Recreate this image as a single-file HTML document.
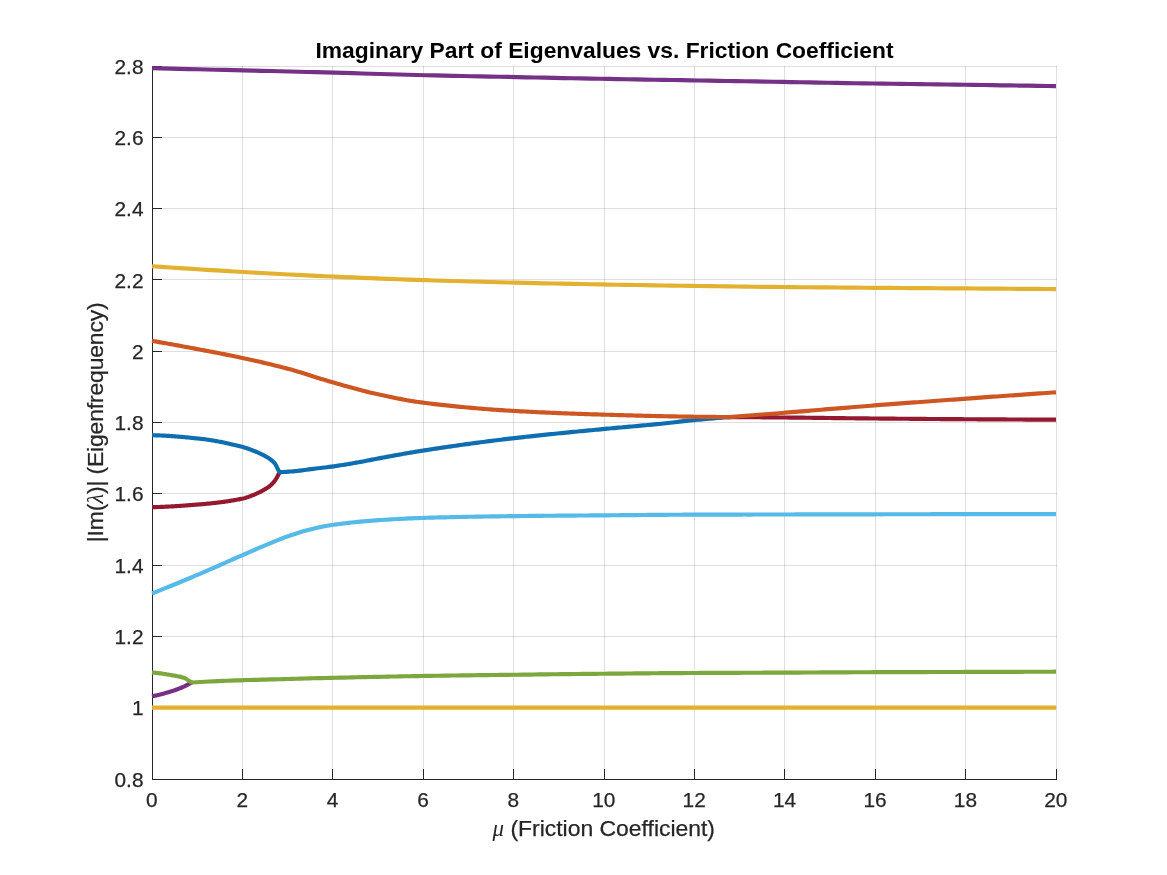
<!DOCTYPE html>
<html lang="en"><head><meta charset="utf-8"><title>Imaginary Part of Eigenvalues vs. Friction Coefficient</title>
<style>html,body{margin:0;padding:0;background:#fff;}body{width:1167px;height:875px;overflow:hidden;}svg{display:block;}text{font-family:"Liberation Sans",Helvetica,Arial,sans-serif;}</style></head><body>
<svg width="1167" height="875" viewBox="0 0 1167 875">
<rect width="1167" height="875" fill="#fff"/>
<path d="M152.5 66.0 V780.0 M242.5 66.0 V780.0 M332.5 66.0 V780.0 M423.5 66.0 V780.0 M513.5 66.0 V780.0 M604.5 66.0 V780.0 M694.5 66.0 V780.0 M784.5 66.0 V780.0 M875.5 66.0 V780.0 M965.5 66.0 V780.0 M1056.5 66.0 V780.0" stroke="#262626" stroke-opacity="0.15" stroke-width="1" fill="none" shape-rendering="crispEdges"/>
<path d="M152.0 779.5 H1057.0 M152.0 707.5 H1057.0 M152.0 636.5 H1057.0 M152.0 565.5 H1057.0 M152.0 493.5 H1057.0 M152.0 422.5 H1057.0 M152.0 351.5 H1057.0 M152.0 279.5 H1057.0 M152.0 208.5 H1057.0 M152.0 137.5 H1057.0 M152.0 66.5 H1057.0" stroke="#262626" stroke-opacity="0.15" stroke-width="1" fill="none" shape-rendering="crispEdges"/>
<path d="M152.5 66.0 V779.5 H1057.0 M152.5 779.5 v-11.0 M242.5 779.5 v-11.0 M332.5 779.5 v-11.0 M423.5 779.5 v-11.0 M513.5 779.5 v-11.0 M604.5 779.5 v-11.0 M694.5 779.5 v-11.0 M784.5 779.5 v-11.0 M875.5 779.5 v-11.0 M965.5 779.5 v-11.0 M1056.5 779.5 v-11.0 M152.5 779.5 h9.5 M152.5 707.5 h9.5 M152.5 636.5 h9.5 M152.5 565.5 h9.5 M152.5 493.5 h9.5 M152.5 422.5 h9.5 M152.5 351.5 h9.5 M152.5 279.5 h9.5 M152.5 208.5 h9.5 M152.5 137.5 h9.5 M152.5 66.5 h9.5" stroke="#262626" stroke-width="1" fill="none" shape-rendering="crispEdges"/>
<g fill="none" stroke-width="4.17" stroke-linejoin="round" stroke-linecap="butt">
<path d="M152.00 707.70 L1056.00 707.70" stroke="#E3B130"/>
<path d="M152.00 696.22 L153.03 696.03 L154.05 695.84 L155.08 695.63 L156.10 695.42 L157.13 695.19 L158.15 694.96 L159.18 694.71 L160.21 694.46 L161.23 694.21 L162.26 693.94 L163.28 693.67 L164.31 693.39 L165.33 693.11 L166.36 692.81 L167.39 692.52 L168.41 692.22 L169.44 691.91 L170.46 691.60 L171.49 691.28 L172.51 690.96 L173.54 690.63 L174.57 690.28 L175.59 689.93 L176.62 689.56 L177.64 689.18 L178.67 688.79 L179.69 688.39 L180.72 687.97 L181.75 687.54 L182.77 687.10 L183.80 686.65 L184.82 686.18 L185.85 685.66 L186.87 685.10 L187.90 684.51 L188.92 683.96 L189.95 683.44 L190.98 682.94 L192.00 682.46" stroke="#753185"/>
<path d="M152.00 672.41 L153.03 672.51 L154.05 672.61 L155.08 672.72 L156.10 672.84 L157.13 672.96 L158.15 673.09 L159.18 673.23 L160.21 673.37 L161.23 673.51 L162.26 673.66 L163.28 673.81 L164.31 673.97 L165.33 674.13 L166.36 674.29 L167.39 674.46 L168.41 674.63 L169.44 674.81 L170.46 674.98 L171.49 675.16 L172.51 675.34 L173.54 675.51 L174.57 675.68 L175.59 675.86 L176.62 676.04 L177.64 676.23 L178.67 676.44 L179.69 676.66 L180.72 676.90 L181.75 677.16 L182.77 677.45 L183.80 677.78 L184.82 678.13 L185.85 678.65 L186.87 679.35 L187.90 680.11 L188.92 680.81 L189.95 681.39 L190.98 681.94 L192.00 682.46 L192.00 682.46 L196.34 682.21 L200.69 681.97 L205.03 681.74 L209.37 681.52 L213.71 681.31 L218.05 681.12 L222.39 680.94 L226.74 680.76 L231.08 680.60 L235.42 680.45 L239.76 680.30 L244.10 680.16 L248.44 680.03 L252.79 679.91 L257.13 679.80 L261.47 679.69 L265.81 679.57 L270.15 679.45 L274.49 679.34 L278.84 679.22 L283.18 679.10 L287.52 678.98 L291.86 678.86 L296.20 678.75 L300.54 678.63 L304.89 678.52 L309.23 678.41 L313.57 678.29 L317.91 678.18 L322.25 678.08 L326.59 677.97 L330.94 677.87 L335.28 677.77 L339.62 677.67 L343.96 677.57 L348.30 677.47 L352.64 677.37 L356.99 677.28 L361.33 677.18 L365.67 677.08 L370.01 676.99 L374.35 676.90 L378.70 676.81 L383.04 676.72 L387.38 676.63 L391.72 676.54 L396.06 676.46 L400.40 676.37 L404.75 676.29 L409.09 676.21 L413.43 676.14 L417.77 676.06 L422.11 675.99 L426.45 675.92 L430.80 675.85 L435.14 675.78 L439.48 675.72 L443.82 675.66 L448.16 675.59 L452.50 675.53 L456.85 675.47 L461.19 675.42 L465.53 675.36 L469.87 675.30 L474.21 675.25 L478.55 675.19 L482.90 675.14 L487.24 675.08 L491.58 675.03 L495.92 674.98 L500.26 674.92 L504.60 674.87 L508.95 674.82 L513.29 674.76 L517.63 674.71 L521.97 674.66 L526.31 674.60 L530.65 674.55 L535.00 674.50 L539.34 674.44 L543.68 674.39 L548.02 674.34 L552.36 674.29 L556.70 674.24 L561.05 674.19 L565.39 674.14 L569.73 674.09 L574.07 674.04 L578.41 673.99 L582.75 673.94 L587.10 673.90 L591.44 673.85 L595.78 673.81 L600.12 673.76 L604.46 673.72 L608.81 673.68 L613.15 673.64 L617.49 673.60 L621.83 673.55 L626.17 673.51 L630.51 673.47 L634.86 673.43 L639.20 673.39 L643.54 673.35 L647.88 673.31 L652.22 673.28 L656.56 673.24 L660.91 673.20 L665.25 673.17 L669.59 673.14 L673.93 673.11 L678.27 673.08 L682.61 673.05 L686.96 673.02 L691.30 672.99 L695.64 672.97 L699.98 672.95 L704.32 672.93 L708.66 672.91 L713.01 672.89 L717.35 672.87 L721.69 672.85 L726.03 672.84 L730.37 672.82 L734.71 672.80 L739.06 672.79 L743.40 672.77 L747.74 672.76 L752.08 672.74 L756.42 672.73 L760.76 672.71 L765.11 672.70 L769.45 672.68 L773.79 672.67 L778.13 672.65 L782.47 672.63 L786.81 672.61 L791.16 672.59 L795.50 672.57 L799.84 672.55 L804.18 672.53 L808.52 672.51 L812.86 672.49 L817.21 672.46 L821.55 672.44 L825.89 672.42 L830.23 672.40 L834.57 672.37 L838.92 672.35 L843.26 672.33 L847.60 672.31 L851.94 672.29 L856.28 672.27 L860.62 672.25 L864.97 672.23 L869.31 672.21 L873.65 672.20 L877.99 672.18 L882.33 672.17 L886.67 672.15 L891.02 672.14 L895.36 672.13 L899.70 672.12 L904.04 672.10 L908.38 672.09 L912.72 672.08 L917.07 672.07 L921.41 672.06 L925.75 672.05 L930.09 672.03 L934.43 672.02 L938.77 672.01 L943.12 672.00 L947.46 671.99 L951.80 671.98 L956.14 671.97 L960.48 671.96 L964.82 671.95 L969.17 671.93 L973.51 671.92 L977.85 671.91 L982.19 671.90 L986.53 671.89 L990.87 671.87 L995.22 671.86 L999.56 671.85 L1003.90 671.84 L1008.24 671.83 L1012.58 671.81 L1016.92 671.80 L1021.27 671.79 L1025.61 671.78 L1029.95 671.77 L1034.29 671.75 L1038.63 671.74 L1042.97 671.73 L1047.32 671.72 L1051.66 671.71 L1056.00 671.69" stroke="#7CA63E"/>
<path d="M152.00 593.48 L155.02 592.28 L158.05 591.08 L161.07 589.87 L164.09 588.65 L167.12 587.43 L170.14 586.20 L173.16 584.97 L176.19 583.73 L179.21 582.49 L182.23 581.24 L185.26 579.99 L188.28 578.72 L191.30 577.46 L194.33 576.19 L197.35 574.91 L200.37 573.63 L203.40 572.33 L206.42 571.02 L209.44 569.70 L212.47 568.38 L215.49 567.05 L218.52 565.72 L221.54 564.38 L224.56 563.04 L227.59 561.70 L230.61 560.36 L233.63 559.03 L236.66 557.70 L239.68 556.38 L242.70 555.06 L245.73 553.74 L248.75 552.41 L251.77 551.09 L254.80 549.77 L257.82 548.46 L260.84 547.17 L263.87 545.89 L266.89 544.63 L269.91 543.37 L272.94 542.11 L275.96 540.86 L278.98 539.64 L282.01 538.45 L285.03 537.32 L288.05 536.24 L291.08 535.20 L294.10 534.19 L297.12 533.20 L300.15 532.25 L303.17 531.34 L306.19 530.49 L309.22 529.69 L312.24 528.95 L315.26 528.24 L318.29 527.55 L321.31 526.90 L324.33 526.29 L327.36 525.72 L330.38 525.21 L333.40 524.77 L336.43 524.35 L339.45 523.95 L342.47 523.57 L345.50 523.21 L348.52 522.86 L351.55 522.52 L354.57 522.21 L357.59 521.90 L360.62 521.61 L363.64 521.34 L366.66 521.08 L369.69 520.83 L372.71 520.60 L375.73 520.38 L378.76 520.17 L381.78 519.96 L384.80 519.77 L387.83 519.57 L390.85 519.39 L393.87 519.21 L396.90 519.04 L399.92 518.88 L402.94 518.72 L405.97 518.57 L408.99 518.43 L412.01 518.30 L415.04 518.18 L418.06 518.07 L421.08 517.97 L424.11 517.87 L427.13 517.78 L430.15 517.70 L433.18 517.61 L436.20 517.53 L439.22 517.45 L442.25 517.38 L445.27 517.30 L448.29 517.23 L451.32 517.16 L454.34 517.09 L457.36 517.03 L460.39 516.97 L463.41 516.90 L466.43 516.84 L469.46 516.79 L472.48 516.73 L475.51 516.68 L478.53 516.62 L481.55 516.57 L484.58 516.52 L487.60 516.47 L490.62 516.43 L493.65 516.38 L496.67 516.34 L499.69 516.30 L502.72 516.26 L505.74 516.22 L508.76 516.18 L511.79 516.14 L514.81 516.10 L517.83 516.07 L520.86 516.03 L523.88 516.00 L526.90 515.97 L529.93 515.94 L532.95 515.91 L535.97 515.88 L539.00 515.85 L542.02 515.82 L545.04 515.79 L548.07 515.77 L551.09 515.74 L554.11 515.72 L557.14 515.69 L560.16 515.67 L563.18 515.64 L566.21 515.62 L569.23 515.60 L572.25 515.58 L575.28 515.55 L578.30 515.53 L581.32 515.51 L584.35 515.48 L587.37 515.46 L590.39 515.44 L593.42 515.42 L596.44 515.39 L599.46 515.37 L602.49 515.34 L605.51 515.32 L608.54 515.30 L611.56 515.27 L614.58 515.24 L617.61 515.22 L620.63 515.19 L623.65 515.16 L626.68 515.14 L629.70 515.11 L632.72 515.08 L635.75 515.06 L638.77 515.03 L641.79 515.00 L644.82 514.98 L647.84 514.95 L650.86 514.92 L653.89 514.90 L656.91 514.88 L659.93 514.85 L662.96 514.83 L665.98 514.81 L669.00 514.79 L672.03 514.77 L675.05 514.75 L678.07 514.73 L681.10 514.71 L684.12 514.70 L687.14 514.68 L690.17 514.67 L693.19 514.66 L696.21 514.65 L699.24 514.64 L702.26 514.63 L705.28 514.62 L708.31 514.62 L711.33 514.61 L714.35 514.60 L717.38 514.60 L720.40 514.59 L723.42 514.58 L726.45 514.58 L729.47 514.57 L732.49 514.57 L735.52 514.56 L738.54 514.55 L741.57 514.55 L744.59 514.54 L747.61 514.54 L750.64 514.54 L753.66 514.53 L756.68 514.53 L759.71 514.52 L762.73 514.52 L765.75 514.51 L768.78 514.51 L771.80 514.50 L774.82 514.50 L777.85 514.49 L780.87 514.48 L783.89 514.48 L786.92 514.47 L789.94 514.47 L792.96 514.46 L795.99 514.45 L799.01 514.45 L802.03 514.44 L805.06 514.44 L808.08 514.43 L811.10 514.42 L814.13 514.42 L817.15 514.41 L820.17 514.41 L823.20 514.40 L826.22 514.39 L829.24 514.39 L832.27 514.38 L835.29 514.37 L838.31 514.37 L841.34 514.36 L844.36 514.36 L847.38 514.35 L850.41 514.34 L853.43 514.34 L856.45 514.33 L859.48 514.33 L862.50 514.32 L865.53 514.32 L868.55 514.31 L871.57 514.31 L874.60 514.30 L877.62 514.29 L880.64 514.29 L883.67 514.28 L886.69 514.28 L889.71 514.27 L892.74 514.27 L895.76 514.26 L898.78 514.26 L901.81 514.25 L904.83 514.25 L907.85 514.24 L910.88 514.24 L913.90 514.23 L916.92 514.23 L919.95 514.22 L922.97 514.22 L925.99 514.21 L929.02 514.21 L932.04 514.20 L935.06 514.20 L938.09 514.20 L941.11 514.19 L944.13 514.19 L947.16 514.18 L950.18 514.18 L953.20 514.17 L956.23 514.17 L959.25 514.16 L962.27 514.16 L965.30 514.16 L968.32 514.15 L971.34 514.15 L974.37 514.14 L977.39 514.14 L980.41 514.14 L983.44 514.13 L986.46 514.13 L989.48 514.12 L992.51 514.12 L995.53 514.12 L998.56 514.11 L1001.58 514.11 L1004.60 514.11 L1007.63 514.10 L1010.65 514.10 L1013.67 514.10 L1016.70 514.09 L1019.72 514.09 L1022.74 514.08 L1025.77 514.08 L1028.79 514.08 L1031.81 514.07 L1034.84 514.07 L1037.86 514.07 L1040.88 514.06 L1043.91 514.06 L1046.93 514.06 L1049.95 514.06 L1052.98 514.05 L1056.00 514.05" stroke="#55BAE7"/>
<path d="M152.00 507.17 L153.07 507.15 L154.14 507.12 L155.21 507.10 L156.29 507.07 L157.36 507.04 L158.43 507.00 L159.50 506.97 L160.57 506.93 L161.64 506.89 L162.72 506.84 L163.79 506.80 L164.86 506.75 L165.93 506.70 L167.00 506.65 L168.07 506.60 L169.14 506.54 L170.22 506.48 L171.29 506.42 L172.36 506.36 L173.43 506.30 L174.50 506.24 L175.57 506.17 L176.64 506.10 L177.72 506.03 L178.79 505.96 L179.86 505.89 L180.93 505.82 L182.00 505.75 L183.07 505.67 L184.15 505.59 L185.22 505.52 L186.29 505.44 L187.36 505.36 L188.43 505.28 L189.50 505.19 L190.57 505.11 L191.65 505.03 L192.72 504.94 L193.79 504.86 L194.86 504.77 L195.93 504.69 L197.00 504.60 L198.07 504.51 L199.15 504.43 L200.22 504.34 L201.29 504.25 L202.36 504.16 L203.43 504.06 L204.50 503.97 L205.58 503.87 L206.65 503.77 L207.72 503.67 L208.79 503.56 L209.86 503.46 L210.93 503.35 L212.00 503.24 L213.08 503.12 L214.15 503.00 L215.22 502.88 L216.29 502.76 L217.36 502.63 L218.43 502.50 L219.50 502.37 L220.58 502.24 L221.65 502.10 L222.72 501.95 L223.79 501.81 L224.86 501.66 L225.93 501.50 L227.01 501.35 L228.08 501.19 L229.15 501.02 L230.22 500.85 L231.29 500.68 L232.36 500.50 L233.43 500.32 L234.51 500.13 L235.58 499.94 L236.65 499.75 L237.72 499.54 L238.79 499.34 L239.86 499.13 L240.93 498.91 L242.01 498.69 L243.08 498.46 L244.15 498.20 L245.22 497.91 L246.29 497.58 L247.36 497.24 L248.44 496.87 L249.51 496.48 L250.58 496.08 L251.65 495.66 L252.72 495.24 L253.79 494.81 L254.86 494.37 L255.94 493.92 L257.01 493.45 L258.08 492.95 L259.15 492.43 L260.22 491.89 L261.29 491.33 L262.37 490.75 L263.44 490.15 L264.51 489.53 L265.58 488.89 L266.65 488.23 L267.72 487.53 L268.79 486.78 L269.87 485.97 L270.94 485.08 L272.01 484.08 L273.08 482.92 L274.15 481.62 L275.22 480.18 L276.29 478.53 L277.37 476.62 L278.44 474.53 L279.51 472.16" stroke="#94182F"/>
<path d="M722.31 417.01 L725.68 417.04 L729.05 417.07 L732.42 417.09 L735.79 417.12 L739.16 417.15 L742.53 417.17 L745.90 417.20 L749.27 417.22 L752.64 417.24 L756.01 417.27 L759.38 417.29 L762.75 417.32 L766.13 417.35 L769.50 417.37 L772.87 417.40 L776.24 417.43 L779.61 417.46 L782.98 417.49 L786.35 417.52 L789.72 417.56 L793.09 417.59 L796.46 417.63 L799.83 417.66 L803.20 417.70 L806.57 417.74 L809.94 417.78 L813.31 417.82 L816.68 417.86 L820.06 417.90 L823.43 417.94 L826.80 417.98 L830.17 418.02 L833.54 418.06 L836.91 418.10 L840.28 418.13 L843.65 418.17 L847.02 418.21 L850.39 418.25 L853.76 418.29 L857.13 418.33 L860.50 418.36 L863.87 418.40 L867.24 418.43 L870.61 418.46 L873.99 418.50 L877.36 418.53 L880.73 418.56 L884.10 418.59 L887.47 418.62 L890.84 418.65 L894.21 418.68 L897.58 418.71 L900.95 418.74 L904.32 418.77 L907.69 418.79 L911.06 418.82 L914.43 418.85 L917.80 418.88 L921.17 418.90 L924.55 418.93 L927.92 418.96 L931.29 418.98 L934.66 419.01 L938.03 419.03 L941.40 419.06 L944.77 419.08 L948.14 419.11 L951.51 419.13 L954.88 419.15 L958.25 419.17 L961.62 419.20 L964.99 419.22 L968.36 419.24 L971.73 419.26 L975.10 419.28 L978.48 419.30 L981.85 419.32 L985.22 419.34 L988.59 419.36 L991.96 419.38 L995.33 419.40 L998.70 419.41 L1002.07 419.43 L1005.44 419.45 L1008.81 419.47 L1012.18 419.49 L1015.55 419.50 L1018.92 419.52 L1022.29 419.54 L1025.66 419.55 L1029.03 419.57 L1032.41 419.59 L1035.78 419.60 L1039.15 419.62 L1042.52 419.63 L1045.89 419.64 L1049.26 419.66 L1052.63 419.67 L1056.00 419.68" stroke="#94182F"/>
<path d="M152.00 435.26 L153.07 435.27 L154.14 435.29 L155.21 435.31 L156.29 435.34 L157.36 435.37 L158.43 435.40 L159.50 435.44 L160.57 435.48 L161.64 435.52 L162.72 435.57 L163.79 435.62 L164.86 435.68 L165.93 435.73 L167.00 435.80 L168.07 435.86 L169.14 435.93 L170.22 436.00 L171.29 436.07 L172.36 436.15 L173.43 436.22 L174.50 436.31 L175.57 436.39 L176.64 436.48 L177.72 436.56 L178.79 436.65 L179.86 436.75 L180.93 436.84 L182.00 436.94 L183.07 437.03 L184.15 437.13 L185.22 437.23 L186.29 437.34 L187.36 437.44 L188.43 437.55 L189.50 437.65 L190.57 437.76 L191.65 437.87 L192.72 437.98 L193.79 438.09 L194.86 438.20 L195.93 438.31 L197.00 438.42 L198.07 438.53 L199.15 438.64 L200.22 438.76 L201.29 438.88 L202.36 439.01 L203.43 439.14 L204.50 439.27 L205.58 439.41 L206.65 439.56 L207.72 439.71 L208.79 439.87 L209.86 440.03 L210.93 440.20 L212.00 440.37 L213.08 440.54 L214.15 440.72 L215.22 440.91 L216.29 441.10 L217.36 441.29 L218.43 441.49 L219.50 441.69 L220.58 441.90 L221.65 442.11 L222.72 442.32 L223.79 442.54 L224.86 442.76 L225.93 442.99 L227.01 443.22 L228.08 443.45 L229.15 443.69 L230.22 443.93 L231.29 444.18 L232.36 444.43 L233.43 444.68 L234.51 444.94 L235.58 445.19 L236.65 445.46 L237.72 445.72 L238.79 445.99 L239.86 446.26 L240.93 446.54 L242.01 446.82 L243.08 447.10 L244.15 447.41 L245.22 447.74 L246.29 448.09 L247.36 448.45 L248.44 448.83 L249.51 449.22 L250.58 449.62 L251.65 450.04 L252.72 450.45 L253.79 450.88 L254.86 451.30 L255.94 451.73 L257.01 452.17 L258.08 452.63 L259.15 453.09 L260.22 453.58 L261.29 454.08 L262.37 454.60 L263.44 455.14 L264.51 455.71 L265.58 456.30 L266.65 456.91 L267.72 457.56 L268.79 458.26 L269.87 459.00 L270.94 459.80 L272.01 460.66 L273.08 461.59 L274.15 462.66 L275.22 463.97 L276.29 465.86 L277.37 468.15 L278.44 470.19 L279.51 472.16 L279.51 472.16 L281.77 472.08 L284.03 471.96 L286.29 471.83 L288.55 471.67 L290.81 471.50 L293.06 471.32 L295.32 471.12 L297.58 470.91 L299.84 470.64 L302.10 470.34 L304.36 470.02 L306.62 469.69 L308.88 469.38 L311.14 469.09 L313.40 468.82 L315.66 468.55 L317.92 468.28 L320.17 468.02 L322.43 467.76 L324.69 467.49 L326.95 467.22 L329.21 466.94 L331.47 466.64 L333.73 466.33 L335.99 466.00 L338.25 465.66 L340.51 465.31 L342.77 464.96 L345.03 464.59 L347.28 464.21 L349.54 463.83 L351.80 463.44 L354.06 463.05 L356.32 462.65 L358.58 462.25 L360.84 461.85 L363.10 461.43 L365.36 461.00 L367.62 460.55 L369.88 460.10 L372.14 459.65 L374.39 459.20 L376.65 458.76 L378.91 458.34 L381.17 457.92 L383.43 457.50 L385.69 457.08 L387.95 456.66 L390.21 456.24 L392.47 455.83 L394.73 455.42 L396.99 455.01 L399.25 454.60 L401.51 454.20 L403.76 453.80 L406.02 453.41 L408.28 453.01 L410.54 452.63 L412.80 452.24 L415.06 451.87 L417.32 451.50 L419.58 451.13 L421.84 450.77 L424.10 450.42 L426.36 450.07 L428.62 449.72 L430.87 449.37 L433.13 449.03 L435.39 448.68 L437.65 448.34 L439.91 448.01 L442.17 447.67 L444.43 447.34 L446.69 447.00 L448.95 446.67 L451.21 446.35 L453.47 446.02 L455.73 445.70 L457.98 445.38 L460.24 445.06 L462.50 444.74 L464.76 444.43 L467.02 444.12 L469.28 443.81 L471.54 443.50 L473.80 443.19 L476.06 442.89 L478.32 442.59 L480.58 442.29 L482.84 441.99 L485.09 441.70 L487.35 441.41 L489.61 441.12 L491.87 440.83 L494.13 440.55 L496.39 440.26 L498.65 439.98 L500.91 439.70 L503.17 439.43 L505.43 439.16 L507.69 438.88 L509.95 438.62 L512.21 438.35 L514.46 438.09 L516.72 437.82 L518.98 437.57 L521.24 437.31 L523.50 437.06 L525.76 436.80 L528.02 436.56 L530.28 436.31 L532.54 436.06 L534.80 435.82 L537.06 435.58 L539.32 435.34 L541.57 435.11 L543.83 434.87 L546.09 434.64 L548.35 434.41 L550.61 434.18 L552.87 433.95 L555.13 433.72 L557.39 433.49 L559.65 433.27 L561.91 433.05 L564.17 432.82 L566.43 432.60 L568.68 432.38 L570.94 432.16 L573.20 431.94 L575.46 431.72 L577.72 431.51 L579.98 431.29 L582.24 431.07 L584.50 430.85 L586.76 430.64 L589.02 430.42 L591.28 430.21 L593.54 429.99 L595.80 429.77 L598.05 429.56 L600.31 429.34 L602.57 429.13 L604.83 428.91 L607.09 428.69 L609.35 428.48 L611.61 428.27 L613.87 428.07 L616.13 427.86 L618.39 427.66 L620.65 427.46 L622.91 427.26 L625.16 427.06 L627.42 426.86 L629.68 426.66 L631.94 426.46 L634.20 426.26 L636.46 426.06 L638.72 425.86 L640.98 425.66 L643.24 425.45 L645.50 425.25 L647.76 425.04 L650.02 424.83 L652.27 424.62 L654.53 424.40 L656.79 424.18 L659.05 423.95 L661.31 423.73 L663.57 423.49 L665.83 423.24 L668.09 422.99 L670.35 422.74 L672.61 422.48 L674.87 422.22 L677.13 421.95 L679.38 421.69 L681.64 421.43 L683.90 421.18 L686.16 420.93 L688.42 420.68 L690.68 420.45 L692.94 420.22 L695.20 420.00 L697.46 419.79 L699.72 419.58 L701.98 419.37 L704.24 419.16 L706.50 418.96 L708.75 418.76 L711.01 418.57 L713.27 418.37 L715.53 418.18 L717.79 417.99 L720.05 417.80 L722.31 417.62 L724.57 417.43 L726.83 417.25 L729.09 417.07" stroke="#0F6EB0"/>
<path d="M152.00 340.86 L154.32 341.26 L156.64 341.67 L158.95 342.08 L161.27 342.49 L163.59 342.90 L165.91 343.31 L168.22 343.72 L170.54 344.14 L172.86 344.56 L175.18 344.98 L177.49 345.40 L179.81 345.82 L182.13 346.25 L184.45 346.68 L186.76 347.11 L189.08 347.54 L191.40 347.97 L193.72 348.40 L196.03 348.84 L198.35 349.28 L200.67 349.72 L202.99 350.15 L205.31 350.59 L207.62 351.03 L209.94 351.47 L212.26 351.92 L214.58 352.36 L216.89 352.81 L219.21 353.25 L221.53 353.71 L223.85 354.16 L226.16 354.62 L228.48 355.09 L230.80 355.55 L233.12 356.03 L235.43 356.50 L237.75 356.99 L240.07 357.48 L242.39 357.97 L244.70 358.47 L247.02 358.97 L249.34 359.48 L251.66 359.99 L253.98 360.51 L256.29 361.03 L258.61 361.56 L260.93 362.09 L263.25 362.63 L265.56 363.17 L267.88 363.72 L270.20 364.27 L272.52 364.83 L274.83 365.40 L277.15 365.98 L279.47 366.56 L281.79 367.15 L284.10 367.75 L286.42 368.36 L288.74 368.97 L291.06 369.61 L293.37 370.27 L295.69 370.94 L298.01 371.63 L300.33 372.33 L302.65 373.04 L304.96 373.77 L307.28 374.49 L309.60 375.23 L311.92 375.96 L314.23 376.70 L316.55 377.43 L318.87 378.16 L321.19 378.89 L323.50 379.60 L325.82 380.31 L328.14 381.01 L330.46 381.69 L332.77 382.35 L335.09 383.01 L337.41 383.67 L339.73 384.32 L342.04 384.98 L344.36 385.64 L346.68 386.29 L349.00 386.95 L351.32 387.59 L353.63 388.23 L355.95 388.86 L358.27 389.49 L360.59 390.11 L362.90 390.71 L365.22 391.31 L367.54 391.89 L369.86 392.46 L372.17 393.01 L374.49 393.55 L376.81 394.07 L379.13 394.58 L381.44 395.08 L383.76 395.58 L386.08 396.08 L388.40 396.57 L390.71 397.05 L393.03 397.52 L395.35 397.99 L397.67 398.45 L399.99 398.90 L402.30 399.34 L404.62 399.77 L406.94 400.19 L409.26 400.59 L411.57 400.98 L413.89 401.35 L416.21 401.71 L418.53 402.05 L420.84 402.37 L423.16 402.67 L425.48 402.97 L427.80 403.25 L430.11 403.54 L432.43 403.81 L434.75 404.09 L437.07 404.36 L439.38 404.62 L441.70 404.88 L444.02 405.14 L446.34 405.39 L448.66 405.64 L450.97 405.89 L453.29 406.13 L455.61 406.36 L457.93 406.59 L460.24 406.82 L462.56 407.04 L464.88 407.26 L467.20 407.48 L469.51 407.69 L471.83 407.89 L474.15 408.09 L476.47 408.29 L478.78 408.49 L481.10 408.68 L483.42 408.86 L485.74 409.04 L488.05 409.22 L490.37 409.39 L492.69 409.56 L495.01 409.73 L497.33 409.89 L499.64 410.05 L501.96 410.20 L504.28 410.35 L506.60 410.50 L508.91 410.64 L511.23 410.78 L513.55 410.91 L515.87 411.04 L518.18 411.17 L520.50 411.30 L522.82 411.42 L525.14 411.54 L527.45 411.66 L529.77 411.78 L532.09 411.90 L534.41 412.01 L536.72 412.12 L539.04 412.23 L541.36 412.34 L543.68 412.45 L546.00 412.55 L548.31 412.65 L550.63 412.75 L552.95 412.85 L555.27 412.95 L557.58 413.05 L559.90 413.14 L562.22 413.23 L564.54 413.32 L566.85 413.41 L569.17 413.50 L571.49 413.59 L573.81 413.67 L576.12 413.75 L578.44 413.84 L580.76 413.92 L583.08 414.00 L585.39 414.07 L587.71 414.15 L590.03 414.23 L592.35 414.30 L594.67 414.37 L596.98 414.45 L599.30 414.52 L601.62 414.59 L603.94 414.66 L606.25 414.72 L608.57 414.79 L610.89 414.86 L613.21 414.93 L615.52 414.99 L617.84 415.06 L620.16 415.12 L622.48 415.19 L624.79 415.25 L627.11 415.32 L629.43 415.38 L631.75 415.44 L634.06 415.50 L636.38 415.56 L638.70 415.62 L641.02 415.68 L643.34 415.74 L645.65 415.80 L647.97 415.85 L650.29 415.91 L652.61 415.96 L654.92 416.01 L657.24 416.07 L659.56 416.12 L661.88 416.17 L664.19 416.22 L666.51 416.26 L668.83 416.31 L671.15 416.35 L673.46 416.40 L675.78 416.44 L678.10 416.48 L680.42 416.52 L682.73 416.56 L685.05 416.59 L687.37 416.63 L689.69 416.66 L692.01 416.69 L694.32 416.72 L696.64 416.75 L698.96 416.78 L701.28 416.81 L703.59 416.83 L705.91 416.86 L708.23 416.88 L710.55 416.90 L712.86 416.93 L715.18 416.95 L717.50 416.97 L719.82 416.99 L722.13 417.01 L724.45 417.03 L726.77 417.05 L729.09 417.07 L729.09 417.07 L732.39 416.81 L735.69 416.55 L738.99 416.29 L742.30 416.03 L745.60 415.78 L748.90 415.52 L752.20 415.27 L755.50 415.02 L758.81 414.77 L762.11 414.51 L765.41 414.26 L768.71 414.00 L772.01 413.75 L775.32 413.49 L778.62 413.23 L781.92 412.96 L785.22 412.70 L788.53 412.43 L791.83 412.16 L795.13 411.89 L798.43 411.62 L801.73 411.35 L805.04 411.07 L808.34 410.80 L811.64 410.53 L814.94 410.26 L818.25 409.99 L821.55 409.71 L824.85 409.44 L828.15 409.17 L831.45 408.90 L834.76 408.63 L838.06 408.36 L841.36 408.09 L844.66 407.82 L847.96 407.55 L851.27 407.28 L854.57 407.02 L857.87 406.75 L861.17 406.49 L864.48 406.23 L867.78 405.97 L871.08 405.71 L874.38 405.45 L877.68 405.20 L880.99 404.94 L884.29 404.69 L887.59 404.44 L890.89 404.18 L894.19 403.93 L897.50 403.68 L900.80 403.44 L904.10 403.19 L907.40 402.94 L910.71 402.70 L914.01 402.45 L917.31 402.21 L920.61 401.96 L923.91 401.72 L927.22 401.48 L930.52 401.23 L933.82 400.99 L937.12 400.75 L940.42 400.51 L943.73 400.27 L947.03 400.03 L950.33 399.79 L953.63 399.55 L956.94 399.31 L960.24 399.07 L963.54 398.83 L966.84 398.60 L970.14 398.36 L973.45 398.12 L976.75 397.88 L980.05 397.64 L983.35 397.41 L986.65 397.17 L989.96 396.94 L993.26 396.70 L996.56 396.46 L999.86 396.23 L1003.17 396.00 L1006.47 395.76 L1009.77 395.53 L1013.07 395.30 L1016.37 395.06 L1019.68 394.83 L1022.98 394.60 L1026.28 394.37 L1029.58 394.14 L1032.88 393.91 L1036.19 393.68 L1039.49 393.45 L1042.79 393.22 L1046.09 392.99 L1049.40 392.76 L1052.70 392.53 L1056.00 392.30" stroke="#CD5622"/>
<path d="M152.00 266.25 L161.13 266.87 L170.26 267.49 L179.39 268.09 L188.53 268.68 L197.66 269.27 L206.79 269.84 L215.92 270.40 L225.05 270.95 L234.18 271.48 L243.31 272.00 L252.44 272.51 L261.58 273.02 L270.71 273.52 L279.84 274.00 L288.97 274.48 L298.10 274.94 L307.23 275.40 L316.36 275.83 L325.49 276.26 L334.63 276.66 L343.76 277.06 L352.89 277.45 L362.02 277.83 L371.15 278.19 L380.28 278.55 L389.41 278.90 L398.55 279.23 L407.68 279.56 L416.81 279.87 L425.94 280.17 L435.07 280.46 L444.20 280.74 L453.33 281.01 L462.46 281.28 L471.60 281.53 L480.73 281.78 L489.86 282.02 L498.99 282.25 L508.12 282.48 L517.25 282.70 L526.38 282.90 L535.52 283.11 L544.65 283.30 L553.78 283.49 L562.91 283.68 L572.04 283.86 L581.17 284.04 L590.30 284.21 L599.43 284.38 L608.57 284.55 L617.70 284.71 L626.83 284.87 L635.96 285.03 L645.09 285.19 L654.22 285.34 L663.35 285.49 L672.48 285.64 L681.62 285.78 L690.75 285.91 L699.88 286.04 L709.01 286.16 L718.14 286.29 L727.27 286.40 L736.40 286.52 L745.54 286.63 L754.67 286.74 L763.80 286.84 L772.93 286.94 L782.06 287.04 L791.19 287.13 L800.32 287.21 L809.45 287.29 L818.59 287.37 L827.72 287.45 L836.85 287.52 L845.98 287.59 L855.11 287.66 L864.24 287.73 L873.37 287.80 L882.51 287.87 L891.64 287.94 L900.77 288.00 L909.90 288.07 L919.03 288.13 L928.16 288.20 L937.29 288.26 L946.42 288.32 L955.56 288.39 L964.69 288.45 L973.82 288.51 L982.95 288.58 L992.08 288.64 L1001.21 288.70 L1010.34 288.76 L1019.47 288.82 L1028.61 288.88 L1037.74 288.94 L1046.87 289.00 L1056.00 289.06" stroke="#E3B130"/>
<path d="M152.00 68.21 L161.13 68.42 L170.26 68.63 L179.39 68.84 L188.53 69.06 L197.66 69.27 L206.79 69.49 L215.92 69.71 L225.05 69.93 L234.18 70.15 L243.31 70.37 L252.44 70.60 L261.58 70.82 L270.71 71.04 L279.84 71.27 L288.97 71.50 L298.10 71.73 L307.23 71.96 L316.36 72.20 L325.49 72.44 L334.63 72.68 L343.76 72.93 L352.89 73.19 L362.02 73.46 L371.15 73.72 L380.28 73.99 L389.41 74.26 L398.55 74.52 L407.68 74.77 L416.81 75.00 L425.94 75.23 L435.07 75.44 L444.20 75.64 L453.33 75.84 L462.46 76.03 L471.60 76.21 L480.73 76.40 L489.86 76.58 L498.99 76.76 L508.12 76.94 L517.25 77.13 L526.38 77.31 L535.52 77.50 L544.65 77.68 L553.78 77.86 L562.91 78.05 L572.04 78.22 L581.17 78.40 L590.30 78.58 L599.43 78.75 L608.57 78.92 L617.70 79.08 L626.83 79.24 L635.96 79.40 L645.09 79.56 L654.22 79.72 L663.35 79.87 L672.48 80.03 L681.62 80.18 L690.75 80.34 L699.88 80.50 L709.01 80.66 L718.14 80.81 L727.27 80.97 L736.40 81.13 L745.54 81.29 L754.67 81.45 L763.80 81.61 L772.93 81.77 L782.06 81.92 L791.19 82.08 L800.32 82.24 L809.45 82.41 L818.59 82.57 L827.72 82.74 L836.85 82.90 L845.98 83.06 L855.11 83.22 L864.24 83.37 L873.37 83.51 L882.51 83.65 L891.64 83.78 L900.77 83.91 L909.90 84.04 L919.03 84.16 L928.16 84.28 L937.29 84.40 L946.42 84.52 L955.56 84.65 L964.69 84.77 L973.82 84.90 L982.95 85.04 L992.08 85.17 L1001.21 85.30 L1010.34 85.43 L1019.47 85.56 L1028.61 85.70 L1037.74 85.83 L1046.87 85.97 L1056.00 86.11" stroke="#753185"/>
</g>
<g fill="#262626" stroke="#262626" stroke-width="0.25" font-size="20.83">
<text x="151.8" y="807" text-anchor="middle">0</text>
<text x="242.2" y="807" text-anchor="middle">2</text>
<text x="332.6" y="807" text-anchor="middle">4</text>
<text x="423.0" y="807" text-anchor="middle">6</text>
<text x="513.4" y="807" text-anchor="middle">8</text>
<text x="603.8" y="807" text-anchor="middle">10</text>
<text x="694.2" y="807" text-anchor="middle">12</text>
<text x="784.6" y="807" text-anchor="middle">14</text>
<text x="875.0" y="807" text-anchor="middle">16</text>
<text x="965.4" y="807" text-anchor="middle">18</text>
<text x="1055.8" y="807" text-anchor="middle">20</text>
<text x="143.5" y="786.6" text-anchor="end">0.8</text>
<text x="143.5" y="715.3" text-anchor="end">1</text>
<text x="143.5" y="644.0" text-anchor="end">1.2</text>
<text x="143.5" y="572.7" text-anchor="end">1.4</text>
<text x="143.5" y="501.4" text-anchor="end">1.6</text>
<text x="143.5" y="430.1" text-anchor="end">1.8</text>
<text x="143.5" y="358.8" text-anchor="end">2</text>
<text x="143.5" y="287.5" text-anchor="end">2.2</text>
<text x="143.5" y="216.2" text-anchor="end">2.4</text>
<text x="143.5" y="144.9" text-anchor="end">2.6</text>
<text x="143.5" y="73.6" text-anchor="end">2.8</text>
</g>
<text x="604.5" y="58.1" text-anchor="middle" font-size="22.82" font-weight="bold" fill="#000">Imaginary Part of Eigenvalues vs. Friction Coefficient</text>
<text x="603.8" y="836.0" text-anchor="middle" font-size="22.92" fill="#262626" stroke="#262626" stroke-width="0.25"><tspan font-family="'Liberation Serif','DejaVu Serif',serif" font-style="italic" stroke="none">μ</tspan> (Friction Coefficient)</text>
<text transform="translate(102.7 542.2) rotate(-90)" text-anchor="start" textLength="239.9" lengthAdjust="spacing" font-size="22.92" fill="#262626" stroke="#262626" stroke-width="0.25">|Im(<tspan font-family="'Liberation Serif','DejaVu Serif',serif" font-style="italic" stroke="none">λ</tspan>)| (Eigenfrequency)</text>
</svg></body></html>
